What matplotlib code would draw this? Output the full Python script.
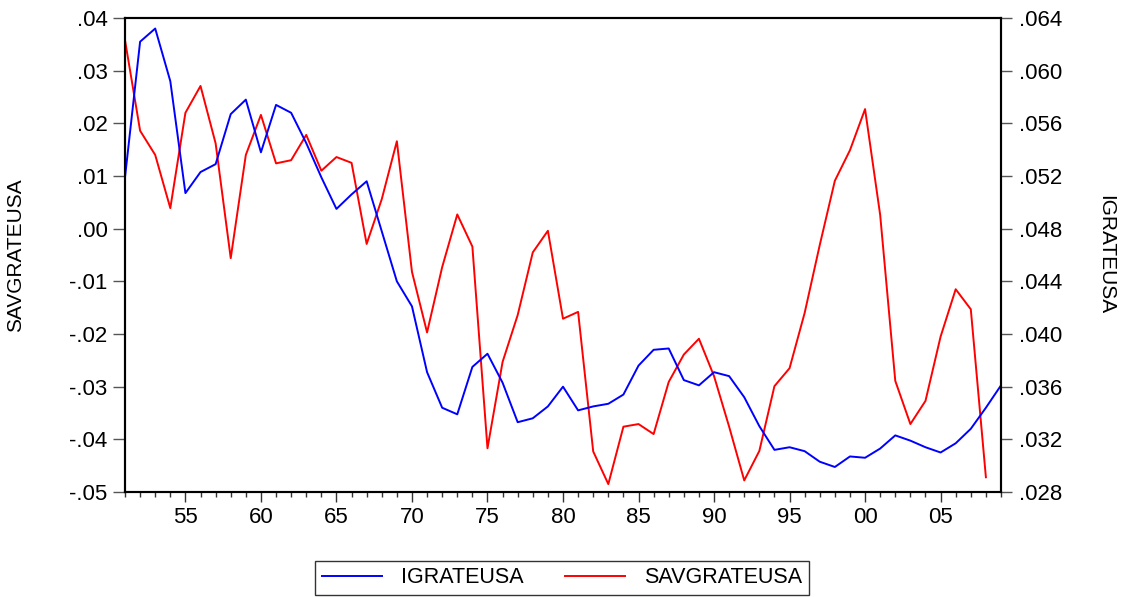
import numpy as np
import matplotlib.pyplot as plt
from matplotlib.ticker import FuncFormatter, MultipleLocator

plt.rcParams['font.family'] = ['Liberation Sans', 'DejaVu Sans']

years = np.arange(1951, 2010)

# IGRATEUSA (right axis), 1951-2009
igrate = [0.0519, 0.0622, 0.0632, 0.0592, 0.0507, 0.0523, 0.0529, 0.0567, 0.0578, 0.0538,
          0.0574, 0.0568, 0.0545, 0.0519, 0.0495, 0.0506, 0.0516, 0.0478, 0.0440, 0.0421,
          0.0371, 0.0344, 0.0339, 0.0375, 0.0385, 0.0363, 0.0333, 0.0336, 0.0345, 0.0360,
          0.0342, 0.0345, 0.0347, 0.0354, 0.0376, 0.0388, 0.0389, 0.0365, 0.0361, 0.0371,
          0.0368, 0.0352, 0.0330, 0.0312, 0.0314, 0.0311, 0.0303, 0.0299, 0.0307, 0.0306,
          0.0313, 0.0323, 0.0319, 0.0314, 0.0310, 0.0317, 0.0328, 0.0344, 0.0361]

# SAVGRATEUSA (left axis), 1951-2008
savgrate = [0.0358, 0.0186, 0.0140, 0.0039, 0.0220, 0.0271, 0.0162, -0.0056, 0.0140, 0.0216,
            0.0124, 0.0130, 0.0178, 0.0110, 0.0136, 0.0125, -0.0029, 0.0056, 0.0166, -0.0082,
            -0.0197, -0.0073, 0.0027, -0.0034, -0.0417, -0.0253, -0.0164, -0.0045, -0.0004, -0.0171,
            -0.0158, -0.0423, -0.0485, -0.0376, -0.0371, -0.0390, -0.0291, -0.0239, -0.0209, -0.0280,
            -0.0376, -0.0478, -0.0422, -0.0299, -0.0265, -0.0160, -0.0031, 0.0091, 0.0149, 0.0227,
            0.0026, -0.0289, -0.0371, -0.0327, -0.0205, -0.0115, -0.0153, -0.0472]


def dec_fmt(nd):
    # eviews style: .04 / -.05
    def f(v, pos):
        if abs(v) < 1e-9:
            v = 0.0
        s = f"{v:.{nd}f}"
        return s.replace("0.", ".", 1)
    return FuncFormatter(f)


fig = plt.figure(figsize=(11.31, 5.97), dpi=100)
ax = fig.add_axes([125 / 1131, 1 - 492 / 597, 876 / 1131, 474 / 597])
ax2 = ax.twinx()

ax.plot(years[:len(savgrate)], savgrate, color='#ff0000', lw=1.4)
ax2.plot(years, igrate, color='#0000ff', lw=1.4)

ax.set_xlim(1951, 2009)
ax.set_ylim(-0.05, 0.04)
ax2.set_ylim(0.028, 0.064)
ax.yaxis.set_major_locator(MultipleLocator(0.01))
ax2.yaxis.set_major_locator(MultipleLocator(0.004))
ax.yaxis.set_major_formatter(dec_fmt(2))
ax2.yaxis.set_major_formatter(dec_fmt(3))

ax.set_xticks(np.arange(1955, 2010, 5))
ax.set_xticklabels([f"{y % 100:02d}" for y in range(1955, 2010, 5)])
ax.set_xticks(years, minor=True)

for a in (ax, ax2):
    for s in a.spines.values():
        s.set_linewidth(1.5)
        s.set_color('black')
ax.tick_params(axis='y', length=8.5, width=1, color='#555555', labelsize=16, pad=4)
ax2.tick_params(axis='y', length=8, width=1, color='#555555', labelsize=16, pad=5)
ax.tick_params(axis='x', which='major', length=7, width=1, color='#333333', labelsize=16, pad=4)
ax.tick_params(axis='x', which='minor', length=3.8, width=1, color='#333333')

ax.set_ylabel('SAVGRATEUSA', fontsize=15)
ax.yaxis.set_label_coords(-0.114, 0.5)
ax2.set_ylabel('IGRATEUSA', fontsize=15, rotation=270, va='center')
ax2.yaxis.set_label_coords(1.12, 0.5)

h1, = ax.plot([], [], color='#0000ff', lw=1.4, label='IGRATEUSA')
h2, = ax.plot([], [], color='#ff0000', lw=1.4, label='SAVGRATEUSA')
leg = fig.legend(handles=[h1, h2], loc='lower center', bbox_to_anchor=(0.497, 0.0), ncol=2,
                 fontsize=15.5, frameon=True, fancybox=False, handlelength=2.8,
                 handletextpad=0.9, columnspacing=1.9, borderpad=0.3, borderaxespad=0.1)
leg.get_frame().set_edgecolor('black')
leg.get_frame().set_linewidth(1.0)

fig.savefig('out.png', dpi=100)
